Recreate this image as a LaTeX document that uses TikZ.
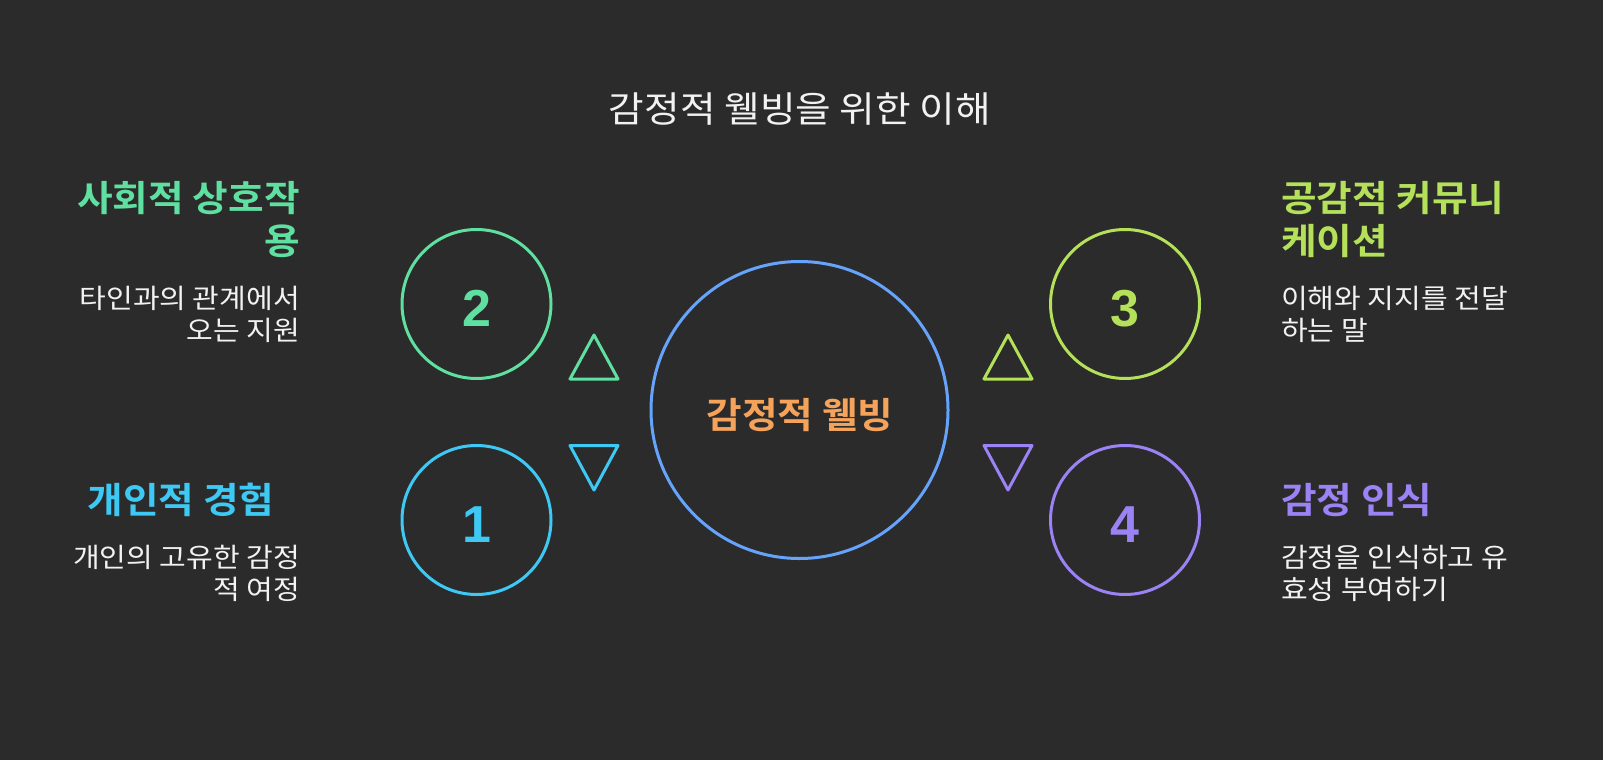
\documentclass[tikz,border=0pt]{standalone}
\usepackage{fontspec}
\setmainfont{Noto Sans CJK KR}[BoldFont={Noto Sans CJK KR Bold}, FakeStretch=1.075]
\newfontfamily\digitfont{Liberation Sans}[BoldFont={Liberation Sans Bold}]
\definecolor{bg}{HTML}{2B2B2B}
\definecolor{cgreen}{HTML}{5FDFA0}
\definecolor{ccyan}{HTML}{3EC9F5}
\definecolor{clime}{HTML}{B4E05A}
\definecolor{cpurple}{HTML}{9B82F5}
\definecolor{cblue}{HTML}{66A3FA}
\definecolor{corange}{HTML}{F5A35A}
\definecolor{ctext}{HTML}{F2F2F2}
\tikzset{
  ring/.style={circle, draw=#1, line width=3pt, minimum size=149pt, inner sep=0pt},
  numtext/.style={text=#1, font=\digitfont\bfseries\fontsize{52}{60}\selectfont, inner sep=0pt},
  headtext/.style={text=#1, font=\bfseries\fontsize{36}{43}\selectfont, inner sep=0pt},
  desctext/.style={text=ctext, font=\fontsize{27}{32}\selectfont, inner sep=0pt},
  tri/.style={draw=#1, line width=3pt, line join=round}
}
\begin{document}
\begin{tikzpicture}[x=1pt, y=-1pt]
\fill[bg] (0,0) rectangle (1603,760);
\useasboundingbox (0,0) rectangle (1603,760);

% title
\node[text=ctext, font=\fontsize{36}{43}\selectfont, inner sep=0pt, anchor=base] (title) at (800,122) {감정적 웰빙을 위한 이해};

% central circle
\node[circle, draw=cblue, line width=3pt, minimum size=297pt, inner sep=0pt] (center) at (799.5,410) {};
\node[text=corange, font=\bfseries\fontsize{36}{43}\selectfont, inner sep=0pt, anchor=base] (centerlabel) at (800,428) {감정적 웰빙};

% side circles
\node[ring=cgreen] (c2) at (476.5,304) {};
\node[ring=ccyan] (c1) at (476.5,520) {};
\node[ring=clime] (c3) at (1125,304) {};
\node[ring=cpurple] (c4) at (1125,520) {};

\node[numtext=cgreen, anchor=base] (n2) at (477,326) {2};
\node[numtext=ccyan, anchor=base] (n1) at (477,542) {1};
\node[numtext=clime, anchor=base] (n3) at (1125,326) {3};
\node[numtext=cpurple, anchor=base] (n4) at (1125,542) {4};

% triangles
\draw[tri=cgreen] (594,335) -- (618,379) -- (570,379) -- cycle;
\draw[tri=ccyan] (570,445.5) -- (618,445.5) -- (594,490) -- cycle;
\draw[tri=clime] (1008,335) -- (1032,379) -- (984,379) -- cycle;
\draw[tri=cpurple] (984,445.5) -- (1032,445.5) -- (1008,490) -- cycle;

% left texts (base anchor = baseline of last line)
\node[headtext=cgreen, align=right, anchor=base east] (h2) at (300,254) {사회적 상호작\\용};
\node[desctext, align=right, anchor=base east] (d2) at (300,340) {타인과의 관계에서\\오는 지원};
\node[headtext=ccyan, anchor=base] (h1) at (181,513) {개인적 경험};
\node[desctext, align=right, anchor=base east] (d1) at (300,599) {개인의 고유한 감정\\적 여정};

% right texts
\node[headtext=clime, align=left, anchor=base west] (h3) at (1281,254) {공감적 커뮤니\\케이션};
\node[desctext, align=left, anchor=base west] (d3) at (1281,340) {이해와 지지를 전달\\하는 말};
\node[headtext=cpurple, anchor=base west] (h4) at (1281,513) {감정 인식};
\node[desctext, align=left, anchor=base west] (d4) at (1281,599) {감정을 인식하고 유\\효성 부여하기};
\end{tikzpicture}
\end{document}
